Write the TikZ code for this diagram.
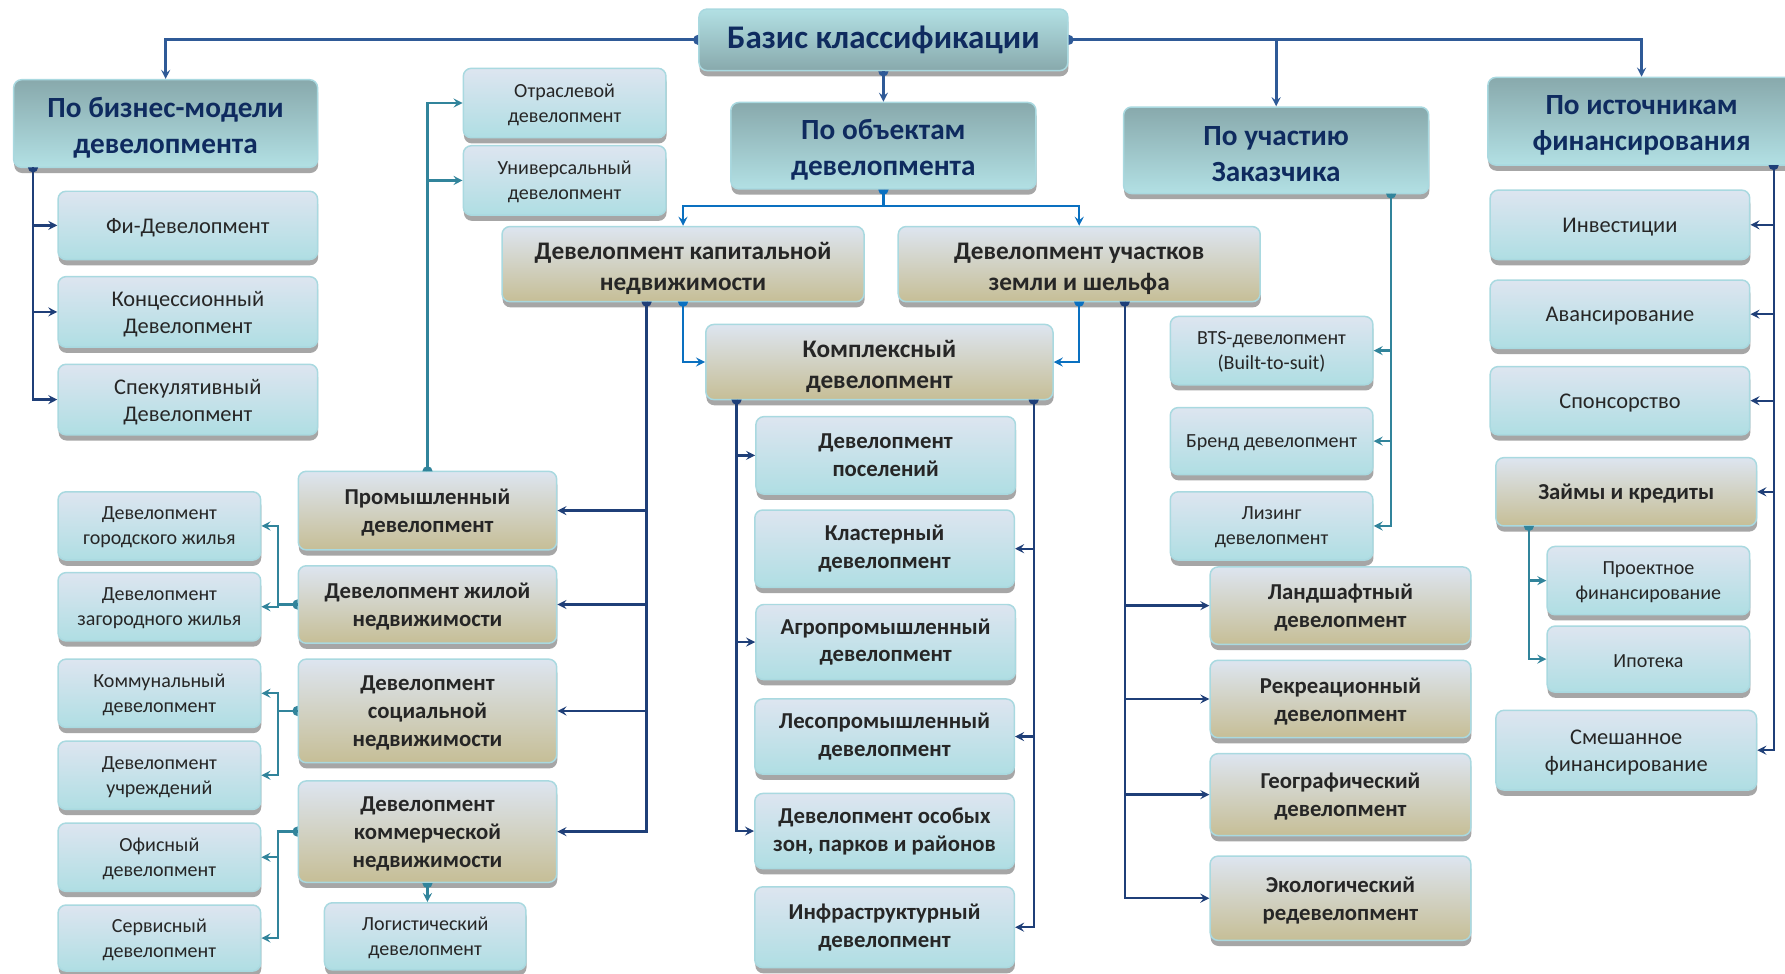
\documentclass[tikz,border=0pt]{standalone}
\usepackage{fontspec}
\setmainfont{Carlito}
\usetikzlibrary{arrows.meta,shadows}
\definecolor{navy}{HTML}{0F2B5F}
\definecolor{dtext}{HTML}{262626}
\definecolor{hdtop}{HTML}{88A9AC}
\definecolor{hdbot}{HTML}{B2E0E4}
\definecolor{lttop}{HTML}{DDE5F0}
\definecolor{ltbot}{HTML}{AFDEE3}
\definecolor{tnbot}{HTML}{C6BE96}
\definecolor{bordc}{HTML}{A9D9E0}
\definecolor{shadc}{HTML}{A6A6A6}
\definecolor{cnavy}{HTML}{1F3F78}
\definecolor{csteel}{HTML}{2F5A97}
\definecolor{cteal}{HTML}{31849B}
\definecolor{cblue}{HTML}{0A70C0}
% box: #1 box style, #2 text style, #3 name, #4 x1, #5 y1, #6 x2, #7 y2, #8 text
\newcommand\bx[8]{\node[#1, minimum width={(#6)-(#4)}, minimum height={(#7)-(#5)}] (#3) at ({((#4)+(#6))/2},{((#5)+(#7))/2}) {};
  \node[#2, align=center, inner sep=0pt] (#3-t) at (#3.center) {#8};}
\newcommand\mk[3]{\fill[#1] (#2) ++({#3+90}:4.5) arc[start angle={#3+90}, delta angle=-180, radius=4.5] -- cycle;}
\tikzset{
  basebox/.style={rounded corners=7pt, draw=bordc, line width=1.3pt, inner sep=0pt,
    drop shadow={shadow xshift=0.5pt, shadow yshift=-5pt, fill=shadc, opacity=1}},
  btitle/.style={basebox, top color=hdbot, bottom color=hdtop},
  bhdr/.style={basebox, top color=hdtop, bottom color=hdbot},
  blt/.style={basebox, top color=lttop, bottom color=ltbot},
  btn/.style={basebox, top color=lttop, bottom color=tnbot},
  ttitle/.style={text=navy, font=\fontsize{29}{34}\selectfont\bfseries},
  thdr/.style={text=navy, font=\fontsize{25.7}{32}\selectfont\bfseries, yshift=-3.5pt},
  treg/.style={text=dtext, font=\fontsize{19.7}{24}\selectfont, yshift=-2pt},
  tsm/.style={text=dtext, font=\fontsize{17.6}{22}\selectfont, yshift=-1.5pt},
  tlb/.style={text=dtext, font=\fontsize{20}{24.5}\selectfont\bfseries},
  ttn/.style={text=dtext, font=\fontsize{20}{24.5}\selectfont\bfseries, yshift=-2pt},
  tbig/.style={text=dtext, font=\fontsize{22.2}{27}\selectfont\bfseries, yshift=-4pt},
  tmid/.style={text=dtext, font=\fontsize{20}{24}\selectfont\bfseries, yshift=-1.5pt},
  conn/.style={line width=2pt, -{Stealth[length=8pt,width=8pt,inset=3pt]}},
  topconn/.style={conn, line width=2.8pt, draw=csteel},
}
\begin{document}
\begin{tikzpicture}[x=1pt,y=-1pt]
\clip (0,0) rectangle (1568,855);
\fill[white] (0,0) rectangle (1568,855);
% ---------- boxes
\bx{btitle}{ttitle}{basis}{614}{8}{938}{62}{Базис классификации}
\bx{bhdr}{thdr}{biz}{12}{70}{279}{147}{По бизнес-модели\\девелопмента}
\bx{bhdr}{thdr}{obj}{642}{90}{910}{166}{По объектам\\девелопмента}
\bx{bhdr}{thdr}{part}{987}{94}{1255}{170}{По участию\\Заказчика}
\bx{bhdr}{thdr}{src}{1307}{68}{1577}{145}{По источникам\\финансирования}
% business model
\bx{blt}{treg}{fi}{51}{168}{279}{228}{Фи-Девелопмент}
\bx{blt}{treg}{konc}{51}{243}{279}{305}{Концессионный\\Девелопмент}
\bx{blt}{treg}{spek}{51}{320}{279}{382}{Спекулятивный\\Девелопмент}
% industrial
\bx{blt}{tsm}{otr}{407}{60}{585}{121}{Отраслевой\\девелопмент}
\bx{blt}{tsm}{univ}{407}{128}{585}{189}{Универсальный\\девелопмент}
\bx{btn}{ttn}{prom}{262}{414}{489}{483}{Промышленный\\девелопмент}
\bx{btn}{ttn}{zhil}{262}{497}{489}{565}{Девелопмент жилой\\недвижимости}
\bx{btn}{ttn}{soc}{262}{579}{489}{670}{Девелопмент\\социальной\\недвижимости}
\bx{btn}{ttn}{comm}{262}{686}{489}{775}{Девелопмент\\коммерческой\\недвижимости}
\bx{blt}{tsm}{logi}{285}{793}{462}{852}{Логистический\\девелопмент}
% far left
\bx{blt}{tsm}{gor}{51}{432}{229}{492}{Девелопмент\\городского жилья}
\bx{blt}{tsm}{zag}{51}{503}{229}{563}{Девелопмент\\загородного жилья}
\bx{blt}{tsm}{kom}{51}{579}{229}{639}{Коммунальный\\девелопмент}
\bx{blt}{tsm}{uchr}{51}{651}{229}{711}{Девелопмент\\учреждений}
\bx{blt}{tsm}{ofis}{51}{723}{229}{783}{Офисный\\девелопмент}
\bx{blt}{tsm}{serv}{51}{795}{229}{853}{Сервисный\\девелопмент}
% objects
\bx{btn}{tbig}{cap}{441}{199}{759}{265}{Девелопмент капитальной\\недвижимости}
\bx{btn}{tbig}{land}{789}{199}{1107}{265}{Девелопмент участков\\земли и шельфа}
\bx{btn}{tbig}{cmplx}{620}{285}{925}{351}{Комплексный\\девелопмент}
% complex children
\bx{blt}{tlb}{pos}{664}{366}{892}{434}{Девелопмент\\поселений}
\bx{blt}{tlb}{clus}{663}{448}{891}{516}{Кластерный\\девелопмент}
\bx{blt}{tlb}{agro}{664}{531}{892}{597}{Агропромышленный\\девелопмент}
\bx{blt}{tlb}{les}{663}{614}{891}{680}{Лесопромышленный\\девелопмент}
\bx{blt}{tlb}{zones}{663}{697}{891}{763}{Девелопмент особых\\зон, парков и районов}
\bx{blt}{tlb}{infra}{663}{779}{891}{850}{Инфраструктурный\\девелопмент}
% land children
\bx{btn}{ttn}{landsh}{1063}{498}{1292}{566}{Ландшафтный\\девелопмент}
\bx{btn}{ttn}{rekr}{1063}{580}{1292}{648}{Рекреационный\\девелопмент}
\bx{btn}{ttn}{geo}{1063}{662}{1292}{734}{Географический\\девелопмент}
\bx{btn}{ttn}{eco}{1063}{752}{1292}{826}{Экологический\\редевелопмент}
% participation
\bx{blt}{tsm}{bts}{1028}{278}{1206}{338}{BTS-девелопмент\\(Built-to-suit)}
\bx{blt}{tsm}{brand}{1028}{358}{1206}{417}{Бренд девелопмент}
\bx{blt}{tsm}{lease}{1028}{432}{1206}{492}{Лизинг\\девелопмент}
% sources
\bx{blt}{treg}{inv}{1309}{167}{1537}{228}{Инвестиции}
\bx{blt}{treg}{avans}{1309}{246}{1537}{306}{Авансирование}
\bx{blt}{treg}{spons}{1309}{322}{1537}{382}{Спонсорство}
\bx{btn}{tmid}{loans}{1314}{402}{1543}{462}{Займы и кредиты}
\bx{blt}{tsm}{proj}{1359}{480}{1537}{540}{Проектное\\финансирование}
\bx{blt}{tsm}{ipot}{1359}{550}{1537}{608}{Ипотека}
\bx{blt}{treg}{mixed}{1314}{624}{1543}{694}{Смешанное\\финансирование}
% ---------- junction coordinates
\coordinate (bizv) at (29,147);
\coordinate (promt) at (375.5,414);
\coordinate (zhx) at (244,531);
\coordinate (socx) at (244,624.5);
\coordinate (comx) at (244,730.5);
\coordinate (objj) at (776,181);
\coordinate (capv) at (568,265);
\coordinate (capb) at (600,265);
\coordinate (landb) at (948,265);
\coordinate (landv) at (988,265);
\coordinate (cxl) at (647,351);
\coordinate (cxr) at (908,351);
\coordinate (partv) at (1222,170);
\coordinate (srcv) at (1558,145);
\coordinate (loanv) at (1343,462);
% ---------- connectors
\draw[topconn] (basis.west) -| (biz.north);
\draw[topconn] (basis.east) -| (src.north);
\draw[topconn] (part.north |- basis.east) -- (part.north);
\draw[topconn] (basis.south) -- (obj.north);
\begin{scope}[conn, draw=cnavy]
  \draw (bizv) |- (fi.west);
  \draw (bizv) |- (konc.west);
  \draw (bizv) |- (spek.west);
  \draw (capv) |- (prom.east);
  \draw (capv) |- (zhil.east);
  \draw (capv) |- (soc.east);
  \draw (capv) |- (comm.east);
  \draw (landv) |- (landsh.west);
  \draw (landv) |- (rekr.west);
  \draw (landv) |- (geo.west);
  \draw (landv) |- (eco.west);
  \draw (cxl) |- (pos.west);
  \draw (cxl) |- (agro.west);
  \draw (cxl) |- (zones.west);
  \draw (cxr) |- (clus.east);
  \draw (cxr) |- (les.east);
  \draw (cxr) |- (infra.east);
  \draw (srcv) |- (inv.east);
  \draw (srcv) |- (avans.east);
  \draw (srcv) |- (spons.east);
  \draw (srcv) |- (loans.east);
  \draw (srcv) |- (mixed.east);
\end{scope}
\begin{scope}[conn, draw=cblue]
  \draw (obj.south) -- (objj) -| (cap.north);
  \draw (objj) -| (land.north);
  \draw (capb) |- (cmplx.west);
  \draw (landb) |- (cmplx.east);
\end{scope}
\begin{scope}[conn, draw=cteal]
  \draw (promt) |- (otr.west);
  \draw (promt) |- (univ.west);
  \draw (zhil.west) -- (zhx) |- (gor.east);
  \draw (zhx) |- (zag.east);
  \draw (soc.west) -- (socx) |- (kom.east);
  \draw (socx) |- (uchr.east);
  \draw (comm.west) -- (comx) |- (ofis.east);
  \draw (comx) |- (serv.east);
  \draw (comm.south) -- (comm.south |- logi.north);
  \draw (partv) |- (bts.east);
  \draw (partv) |- (brand.east);
  \draw (partv) |- (lease.east);
  \draw (loanv) |- (proj.west);
  \draw (loanv) |- (ipot.west);
\end{scope}
% ---------- start markers
\mk{csteel}{basis.west}{180}
\mk{csteel}{basis.east}{0}
\mk{csteel}{basis.south}{90}
\mk{cnavy}{bizv}{90}
\mk{cnavy}{capv}{90}
\mk{cnavy}{landv}{90}
\mk{cnavy}{cxl}{90}
\mk{cnavy}{cxr}{90}
\mk{cnavy}{srcv}{90}
\mk{cblue}{obj.south}{90}
\mk{cblue}{capb}{90}
\mk{cblue}{landb}{90}
\mk{cteal}{promt}{270}
\mk{cteal}{zhil.west}{180}
\mk{cteal}{soc.west}{180}
\mk{cteal}{comm.west}{180}
\mk{cteal}{comm.south}{90}
\mk{cteal}{partv}{90}
\mk{cteal}{loanv}{90}
\end{tikzpicture}
\end{document}
